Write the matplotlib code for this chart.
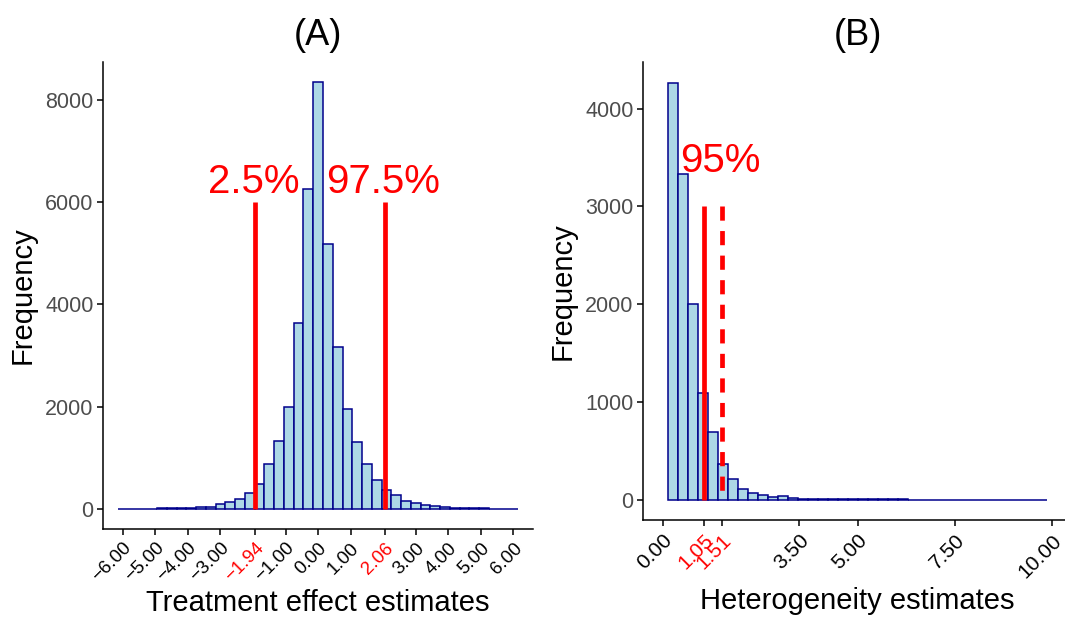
import numpy as np
import matplotlib.pyplot as plt

plt.rcParams['font.family'] = ['Liberation Sans', 'DejaVu Sans']

# (A) treatment effect: bin centres -6..6, step 0.3
te_centers = np.round(np.arange(-6.0, 6.01, 0.3), 2)
te_counts = [2, 3, 4, 6, 8, 10, 14, 20, 28, 45, 100, 135, 185, 315, 495, 885, 1320, 1990, 3636, 6258,
             8346,
             5176, 3166, 1953, 1300, 868, 558, 360, 262, 148, 112, 78, 50, 32, 22, 15, 10, 7, 5, 3, 2]
te_lo, te_hi = -1.94, 2.06
te_ticks = [-6, -5, -4, -3, te_lo, -1, 0, 1, te_hi, 3, 4, 5, 6]
te_ticklabels = ['\u22126.00', '\u22125.00', '\u22124.00', '\u22123.00', '\u22121.94', '\u22121.00',
                 '0.00', '1.00', '2.06', '3.00', '4.00', '5.00', '6.00']

# (B) heterogeneity: 38 bins starting at 0.128
het_start, het_width = 0.128, 0.2564
het_counts = [4268, 3334, 2000, 1088, 690, 362, 211, 107, 68, 48, 27, 34, 13, 10, 6, 4, 3, 4, 5, 4,
              2, 1, 3, 4, 0, 0, 0, 0, 0, 0, 0, 0, 0, 0, 0, 0, 0, 0]
het_est, het_upper = 1.05, 1.51
het_ticks = [0, het_est, het_upper, 3.5, 5, 7.5, 10]
het_ticklabels = ['0.00', '1.05', '1.51', '3.50', '5.00', '7.50', '10.00']

fill = '#ADD8E6'
edge = '#00008B'
grey = '#4D4D4D'

fig = plt.figure(figsize=(10.65, 6.17), dpi=100)
ax1 = fig.add_axes([0.097, 0.1426, 0.4034, 0.7574])
ax2 = fig.add_axes([0.604, 0.1567, 0.4025, 0.7433])


def style(ax):
    for s in ['top', 'right']:
        ax.spines[s].set_visible(False)
    for s in ['left', 'bottom']:
        ax.spines[s].set_linewidth(1.1)
    ax.tick_params(width=1.1, length=4, color='black')
    ax.tick_params(axis='y', labelsize=15.5, labelcolor=grey, pad=3)


# ---- (A)
ax1.bar(te_centers, te_counts, width=0.3, color=fill, edgecolor=edge, linewidth=1.1)
ax1.vlines([te_lo, te_hi], 0, 6000, color='red', linewidth=3.4)
ax1.text(-1.99, 6186, '2.5%', color='red', fontsize=29, ha='center', va='baseline')
ax1.text(2.0, 6186, '97.5%', color='red', fontsize=29, ha='center', va='baseline')
ax1.set_xlim(-6.6, 6.6)
ax1.set_ylim(-395, 8750)
ax1.set_yticks([0, 2000, 4000, 6000, 8000])
ax1.set_xticks(te_ticks)
ax1.set_xticklabels(te_ticklabels, rotation=45, ha='right', va='top', rotation_mode='anchor', fontsize=13.5)
for lab, v in zip(ax1.get_xticklabels(), te_ticks):
    lab.set_color('red' if v in (te_lo, te_hi) else 'black')
style(ax1)
ax1.set_title('(A)', fontsize=26, pad=12)
ax1.set_xlabel('Treatment effect estimates', fontsize=21, labelpad=3)
ax1.set_ylabel('Frequency', fontsize=21, labelpad=6)

# ---- (B)
het_edges = het_start + het_width * np.arange(len(het_counts))
ax2.bar(het_edges, het_counts, width=het_width, align='edge', color=fill, edgecolor=edge, linewidth=1.1)
ax2.vlines(het_est, 0, 3000, color='red', linewidth=3.4)
# dashed line drawn top-down so a dash starts at 3000
ax2.plot([het_upper, het_upper], [3000, 0], color='red', linewidth=3.4, linestyle=(0, (3, 2.2)))
ax2.text(1.47, 3350, '95%', color='red', fontsize=29, ha='center', va='baseline')
ax2.set_xlim(-0.5, 10.5)
ax2.set_ylim(-213, 4481)
ax2.set_yticks([0, 1000, 2000, 3000, 4000])
ax2.set_xticks(het_ticks)
ax2.set_xticklabels(het_ticklabels, rotation=45, ha='right', va='top', rotation_mode='anchor', fontsize=15)
for lab, v in zip(ax2.get_xticklabels(), het_ticks):
    lab.set_color('red' if v in (het_est, het_upper) else 'black')
style(ax2)
ax2.set_title('(B)', fontsize=26, pad=12)
ax2.set_xlabel('Heterogeneity estimates', fontsize=21, labelpad=4)
ax2.set_ylabel('Frequency', fontsize=21, labelpad=6)

fig.savefig('out.png', dpi=100)
